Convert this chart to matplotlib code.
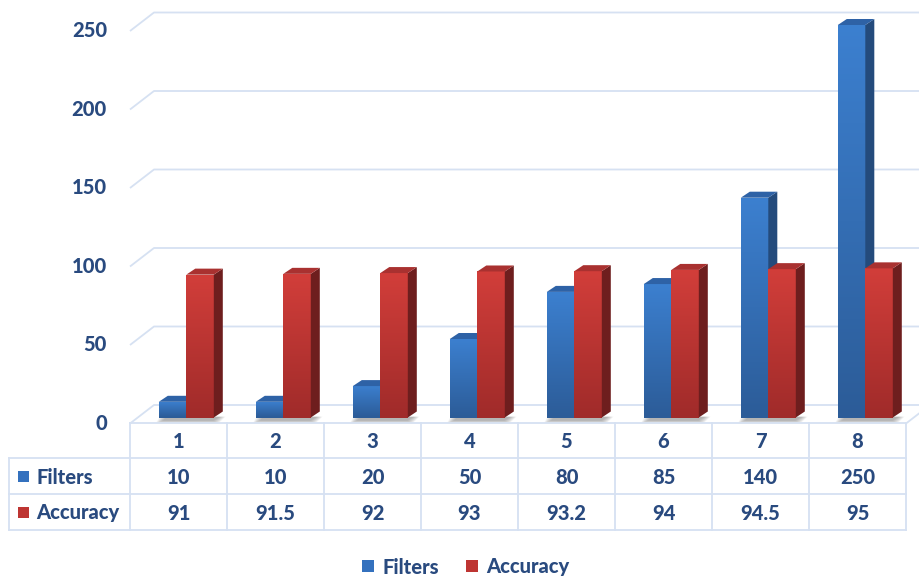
import matplotlib.pyplot as plt
import numpy as np
from matplotlib.patches import Polygon, Rectangle
import matplotlib.transforms as mtransforms

# data
categories = ["1", "2", "3", "4", "5", "6", "7", "8"]
filters = [10, 10, 20, 50, 80, 85, 140, 250]
accuracy = [91, 91.5, 92, 93, 93.2, 94, 94.5, 95]
y_ticks = [0, 50, 100, 150, 200, 250]

W, H = 919, 577
txt_color = "#294A7F"
grid_color = "#D6E1F2"
font = "Lato"
fsize = 14.5
fweight = "black"

fig = plt.figure(figsize=(W / 100, H / 100), dpi=100)

# chart axes: x in category units, y in value units (front plane of the bars)
px_per_cat = 97.0
px_per_val = 1.57
x0_px, y0_px = 137.8, 417.5
ax = fig.add_axes([0, 0, 1, 1])
ax.set_xlim((0 - x0_px) / px_per_cat - 0.5, (W - x0_px) / px_per_cat - 0.5)
ax.set_ylim((y0_px - H) / px_per_val, y0_px / px_per_val)
ax.axis("off")

# overlay in pixel units for the table and legend
tab = fig.add_axes([0, 0, 1, 1], zorder=5)
tab.set_xlim(0, W)
tab.set_ylim(H, 0)
tab.axis("off")
tab.patch.set_alpha(0)

# depth offsets (data units)
front_dx, front_dy = -7.8 / px_per_cat, -6.0 / px_per_val
back_dx, back_dy = 16.2 / px_per_cat, 12.5 / px_per_val
bar_dx, bar_dy = 9.0 / px_per_cat, 6.0 / px_per_val
bar_w = 27.5 / px_per_cat
x = np.arange(len(categories))
xl, xr = -0.5, len(categories) - 0.5

# gridlines on the left wall and back wall
for v in y_ticks:
    ax.plot([xl + front_dx, xl + back_dx, ax.get_xlim()[1]],
            [v + front_dy, v + back_dy, v + back_dy],
            color=grid_color, lw=1.3, zorder=1, solid_capstyle="butt")
# right edge of floor
ax.plot([xr + front_dx, xr + back_dx], [front_dy, back_dy], color=grid_color, lw=1.3, zorder=1)

# soft shadows on the floor
for i in x:
    for k in range(8):
        sx = i - bar_w + 0.01 + k * 0.01
        shadow = Polygon([(sx, 0.5), (i + bar_w + 0.12 - k * 0.008, 0.5),
                          (i + bar_w + 0.05 - k * 0.008, front_dy * (0.95 - k * 0.06)),
                          (sx - 0.04, front_dy * (0.95 - k * 0.06))],
                         closed=True, facecolor="#606060", alpha=0.07, lw=0, zorder=2)
        ax.add_patch(shadow)


def gradient_bar(bars, c_top, c_bot):
    grad = np.linspace(0, 1, 256).reshape(-1, 1)
    cmap = plt.matplotlib.colors.LinearSegmentedColormap.from_list("g", [c_bot, c_top])
    for b in bars:
        bx, by = b.get_x(), b.get_y()
        bw, bh = b.get_width(), b.get_height()
        im = ax.imshow(grad, cmap=cmap, aspect="auto", origin="lower",
                       extent=[bx, bx + bw, by, by + bh], zorder=b.get_zorder() + 0.01)
        im.set_clip_path(b)


def draw_series(xpos, vals, c_top, c_bot, c_side, c_roof, z):
    bars = ax.bar(xpos, vals, width=bar_w, align="edge", color=c_bot, lw=0, zorder=z)
    gradient_bar(bars, c_top, c_bot)
    for b in bars:
        bx, bh = b.get_x(), b.get_height()
        side = Polygon([(bx + bar_w, 0), (bx + bar_w + bar_dx, bar_dy),
                        (bx + bar_w + bar_dx, bh + bar_dy), (bx + bar_w, bh)],
                       closed=True, facecolor=c_side, lw=0, zorder=z + 0.02)
        roof = Polygon([(bx, bh), (bx + bar_w, bh), (bx + bar_w + bar_dx, bh + bar_dy),
                        (bx + bar_dx, bh + bar_dy)],
                       closed=True, facecolor=c_roof, lw=0, zorder=z + 0.02)
        ax.add_patch(side)
        ax.add_patch(roof)


draw_series(x - bar_w, filters, "#3C80D0", "#2C5C98", "#244B7C", "#2E62A6", 3)
draw_series(x, accuracy, "#D23E3A", "#A02B2A", "#6E1E1E", "#A93130", 4)

# y tick labels on the front plane
lbl_tr = mtransforms.blended_transform_factory(tab.transData, ax.transData)
for v in y_ticks:
    ax.text(107, v + front_dy, str(v), transform=lbl_tr, ha="right", va="center",
            fontsize=fsize, fontweight=fweight, color=txt_color, family=font)

# data table
row_top, row1, row2, row_bot = 423, 458, 494, 530
col0 = 130
col_w = 97
n = len(categories)
col_right = col0 + n * col_w
tab.plot([col0, col_right], [row_top, row_top], color=grid_color, lw=1.3)
for yy in (row1, row2, row_bot):
    tab.plot([9, col_right], [yy, yy], color=grid_color, lw=1.3)
tab.plot([9, 9], [row1, row_bot], color=grid_color, lw=1.3)
for j in range(n + 1):
    tab.plot([col0 + j * col_w] * 2, [row_top, row_bot], color=grid_color, lw=1.3)

txt_kw = dict(ha="center", va="center", fontsize=fsize, fontweight=fweight, color=txt_color, family=font)
for j in range(n):
    cx = col0 + (j + 0.5) * col_w
    tab.text(cx, (row_top + row1) / 2 + 1, categories[j], **txt_kw)
    tab.text(cx, (row1 + row2) / 2 + 1, f"{filters[j]:g}", **txt_kw)
    tab.text(cx, (row2 + row_bot) / 2 + 1, f"{accuracy[j]:g}", **txt_kw)

series_names = ["Filters", "Accuracy"]
series_colors = ["#3471BE", "#BE3532"]
for k, (name, c) in enumerate(zip(series_names, series_colors)):
    yc = (row1 + row2) / 2 if k == 0 else (row2 + row_bot) / 2
    tab.add_patch(Rectangle((18, yc - 5), 11, 11, facecolor=c, lw=0))
    tab.text(36, yc + 1, name, ha="left", va="center", fontsize=fsize, fontweight=fweight,
             color=txt_color, family=font)

# legend
leg_x = [362, 466]
for k, (name, c) in enumerate(zip(series_names, series_colors)):
    tab.add_patch(Rectangle((leg_x[k], 560), 12, 12, facecolor=c, lw=0))
    tab.text(leg_x[k] + 20, 567, name, ha="left", va="center", fontsize=fsize, fontweight=fweight,
             color=txt_color, family=font)

fig.savefig("out.png", dpi=100)
